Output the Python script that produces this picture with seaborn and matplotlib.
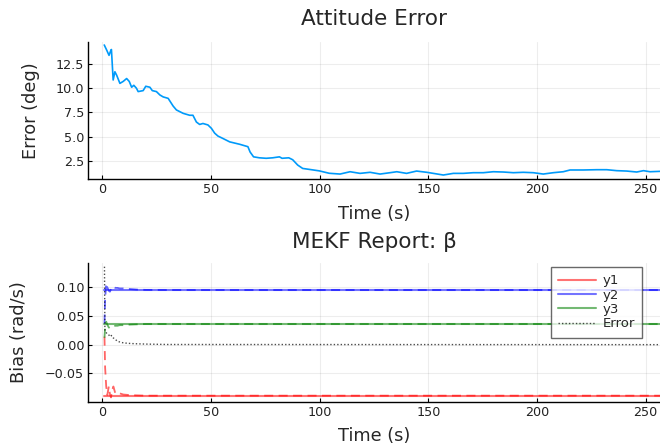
import numpy as np
import pandas as pd
import matplotlib
matplotlib.use("Agg")
import matplotlib.pyplot as plt
import seaborn as sns

# ---- Attitude error data (time s, error deg) ----
t_att = [0.9, 2.0, 3.1, 4.0, 4.2, 5.0, 5.8, 6.6, 8.1, 9.6, 11.2, 12.4, 13.5, 14.5, 15.7,
         16.5, 18.8, 20.0, 21.9, 23.0, 24.9, 26.5, 28.0, 30.3, 32.6, 34.1, 37.2, 40.2,
         41.7, 43.3, 44.8, 46.3, 48.6, 50.2, 51.7, 53.2, 55.5, 58.6, 63.2, 67.0, 68.0,
         69.6, 72.3, 75.4, 78.4, 81.5, 82.7, 85.8, 87.6, 89.9, 92.2, 95.3, 99.8, 104.4,
         109.4, 114.0, 118.6, 123.2, 127.8, 132.4, 135.5, 140.0, 144.6, 149.3, 152.3,
         156.9, 161.5, 166.1, 170.7, 175.3, 179.9, 184.5, 189.1, 193.7, 198.3, 202.9,
         207.5, 212.1, 215.2, 221.3, 227.5, 232.1, 236.7, 241.3, 245.9, 249.0, 252.0,
         256.6, 260.0]
err_att = [14.47, 13.95, 13.4, 13.95, 14.0, 10.85, 11.7, 11.35, 10.5, 10.7, 11.0, 10.7,
           10.1, 10.3, 10.0, 9.65, 9.75, 10.2, 10.1, 9.75, 9.65, 9.3, 9.1, 8.95, 8.15,
           7.75, 7.4, 7.2, 7.2, 6.5, 6.25, 6.35, 6.2, 5.85, 5.35, 5.05, 4.8, 4.45, 4.2,
           3.95, 3.4, 2.9, 2.8, 2.75, 2.8, 2.9, 2.75, 2.8, 2.6, 2.05, 1.7, 1.6, 1.45,
           1.2, 1.12, 1.36, 1.19, 1.3, 1.12, 1.26, 1.36, 1.19, 1.43, 1.3, 1.19, 1.02,
           1.19, 1.19, 1.26, 1.26, 1.36, 1.33, 1.26, 1.3, 1.26, 1.12, 1.26, 1.36, 1.54,
           1.54, 1.57, 1.57, 1.47, 1.43, 1.33, 1.47, 1.36, 1.4, 1.4]

# ---- Bias data ----
t_true = [1.0, 260.0]
y1_true = [-0.089, -0.089]
y2_true = [0.0953, 0.0953]
y3_true = [0.036, 0.036]

t_est = [1.0, 1.3, 1.8, 2.3, 3.0, 3.5, 4.0, 4.5, 5.1, 6.0, 7.0, 8.0, 9.7, 12.7, 16.0, 20.0, 30.0, 260.0]
y1_est = [0.014, -0.040, -0.073, -0.0876, -0.073, -0.086, -0.092, -0.080, -0.073, -0.085,
          -0.086, -0.085, -0.087, -0.088, -0.0885, -0.089, -0.089, -0.089]
y2_est = [0.037, 0.080, 0.107, 0.100, 0.094, 0.0923, 0.097, 0.101, 0.101, 0.099, 0.099,
          0.098, 0.098, 0.097, 0.096, 0.0955, 0.0953, 0.0953]
y3_est = [0.012, 0.030, 0.040, 0.035, 0.030, 0.0285, 0.030, 0.031, 0.032, 0.033, 0.033,
          0.034, 0.034, 0.035, 0.0355, 0.036, 0.036, 0.036]
t_errb = [1.0, 1.2, 1.6, 2.2, 3.0, 3.5, 4.2, 5.0, 6.0, 7.0, 8.5, 10.0, 13.0, 16.0, 20.0, 30.0, 260.0]
err_b = [0.136, 0.0256, 0.022, 0.019, 0.017, 0.014, 0.016, 0.012, 0.009, 0.006, 0.004,
         0.003, 0.002, 0.0015, 0.001, 0.0003, 0.0]

labels = ["y1", "y2", "y3"]

sns.set_theme(style="white")
plt.rcParams["font.family"] = ["DejaVu Sans"]

fig = plt.figure(figsize=(6.6, 4.46), dpi=100)
W, H = 660, 446
def axrect(l, t, r, b):
    return [l / W, 1 - b / H, (r - l) / W, (b - t) / H]

ax1 = fig.add_axes(axrect(88.3, 41.7, 660, 179.3))
ax2 = fig.add_axes(axrect(88.3, 263.3, 660, 401.7))

df_att = pd.DataFrame({"t": t_att, "err": err_att})
sns.lineplot(data=df_att, x="t", y="err", ax=ax1, color="#009AFA", lw=1.2,
             estimator=None, sort=False)

colors = {"y1": (1, 0, 0), "y2": (0, 0, 1), "y3": (0, 0.5, 0)}
trues = {"y1": y1_true, "y2": y2_true, "y3": y3_true}
ests = {"y1": y1_est, "y2": y2_est, "y3": y3_est}
for lab in labels:
    sns.lineplot(x=t_true, y=trues[lab], ax=ax2, color=colors[lab], alpha=0.55, lw=1.5,
                 label=lab, estimator=None, sort=False)
for lab in labels:
    sns.lineplot(x=t_est, y=ests[lab], ax=ax2, color=colors[lab], alpha=0.6, lw=1.3,
                 estimator=None, sort=False, label="_nolegend_")
    ax2.lines[-1].set_linestyle((0, (5, 3)))
sns.lineplot(x=t_errb, y=err_b, ax=ax2, color="black", alpha=0.7, lw=1.0,
             label="Error", estimator=None, sort=False)
ax2.lines[-1].set_linestyle((0, (1, 1.5)))

for ax in (ax1, ax2):
    ax.set_xlim(-6.44, 256.6)
    ax.set_xticks([0, 50, 100, 150, 200, 250])
    ax.grid(True, color="#000000", alpha=0.07, lw=0.8)
    for s in ("top", "right"):
        ax.spines[s].set_visible(False)
    for s in ("left", "bottom"):
        ax.spines[s].set_color("black")
        ax.spines[s].set_linewidth(1.0)
    ax.tick_params(direction="in", length=3, width=0.8, color="black",
                   labelsize=9.2, labelcolor="#222222", pad=3, left=True, bottom=True)
    ax.set_xlabel("Time (s)", fontsize=12.8, labelpad=6)
    ax.set_facecolor("white")

ax1.set_ylim(0.577, 14.81)
ax1.set_yticks([2.5, 5.0, 7.5, 10.0, 12.5])
ax1.set_yticklabels(["2.5", "5.0", "7.5", "10.0", "12.5"])
ax1.set_ylabel("Error (deg)", fontsize=12.8)
ax1.set_title("Attitude Error", fontsize=15.5, pad=12)

ax2.set_ylim(-0.0995, 0.1419)
ax2.set_yticks([-0.05, 0.0, 0.05, 0.10])
ax2.set_yticklabels(["\u22120.05", "0.00", "0.05", "0.10"])
ax2.set_ylabel("Bias (rad/s)", fontsize=12.8)
ax2.set_title("MEKF Report: \u03b2", fontsize=15.5, pad=11)

leg = ax2.legend(loc="upper right", bbox_to_anchor=(0.9685, 0.973), borderaxespad=0,
                 fontsize=9.5, frameon=True, fancybox=False, handlelength=2.9,
                 labelspacing=0.1, borderpad=0.55, handletextpad=0.45)
leg.get_frame().set_edgecolor("#444444")
leg.get_frame().set_linewidth(1.0)

ax1.yaxis.set_label_coords(-0.0845, 0.5)
ax2.yaxis.set_label_coords(-0.1055, 0.5)

fig.savefig("out.png", dpi=100)
